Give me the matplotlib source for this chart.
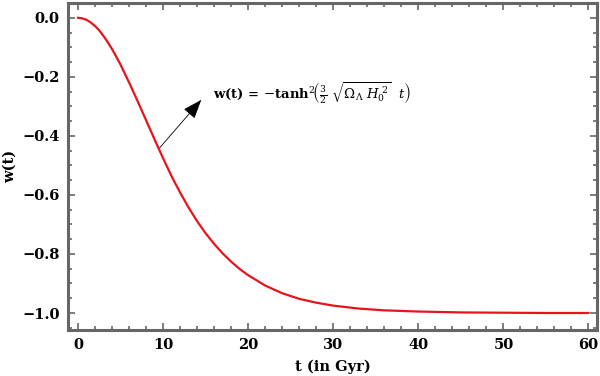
import matplotlib.pyplot as plt
from matplotlib.ticker import MultipleLocator

# values
t_gyr = [0, 0.5, 1, 1.5, 2, 2.5, 3, 3.5, 4, 4.5, 5, 6, 7, 8, 9, 10, 11, 12,
         13, 14, 15, 16, 17, 18, 19, 20, 22, 24, 26, 28, 30, 33, 36, 40, 45,
         50, 55, 60]
w_t = [0.0, -0.002, -0.007, -0.016, -0.028, -0.043, -0.062, -0.083, -0.106,
       -0.132, -0.159, -0.219, -0.282, -0.347, -0.412, -0.476, -0.537,
       -0.592, -0.643, -0.689, -0.730, -0.766, -0.798, -0.826, -0.851,
       -0.872, -0.907, -0.933, -0.952, -0.965, -0.975, -0.985, -0.991,
       -0.995, -0.998, -0.999, -1.0, -1.0]

label = (r'w(t) = $-$tanh$^{2}\!\left(\frac{3}{2}\ '
         r'\sqrt{\Omega_{\Lambda}\ H_{0}^{\ 2}}\ \ t\right)$')

plt.rcParams['font.family'] = 'DejaVu Serif'
plt.rcParams['mathtext.fontset'] = 'dejavuserif'

fig = plt.figure(figsize=(6, 3.76), dpi=100)
ax = fig.add_axes([0.113, 0.122, 0.882, 0.870])

ax.plot(t_gyr, w_t, color='#e8141c', lw=1.6)

ax.set_xlim(-1.2, 61.0)
ax.set_ylim(-1.058, 0.05)

frame = '#666666'
for s in ax.spines.values():
    s.set_color(frame)
    s.set_linewidth(2.2)

ax.xaxis.set_major_locator(MultipleLocator(10))
ax.xaxis.set_minor_locator(MultipleLocator(2))
ax.yaxis.set_major_locator(MultipleLocator(0.2))
ax.yaxis.set_minor_locator(MultipleLocator(0.05))
ax.tick_params(which='both', direction='in', top=True, right=True,
               color=frame, width=1.2, labelsize=10.5, pad=6)
ax.tick_params(which='major', length=5)
ax.tick_params(which='minor', length=3)
ax.yaxis.set_major_formatter(plt.FuncFormatter(lambda v, p: f'{v:.1f}'.replace('-', '\u2212')))

ax.set_xlabel('t (in Gyr)', fontsize=10.5, fontweight='bold', labelpad=5)
ax.set_ylabel('w(t)', fontsize=10.5, fontweight='bold', labelpad=4)

ax.annotate('', xy=(14.7, -0.271), xytext=(9.4, -0.447),
            arrowprops=dict(arrowstyle='-|>,head_length=1.2,head_width=0.45',
                            color='black', lw=0.6))
ax.text(15.9, -0.254, label, fontsize=9.5, va='center', ha='left',
        fontweight='bold')

for lb in ax.get_xticklabels() + ax.get_yticklabels():
    lb.set_fontweight('bold')

fig.savefig('out.png', dpi=100)
